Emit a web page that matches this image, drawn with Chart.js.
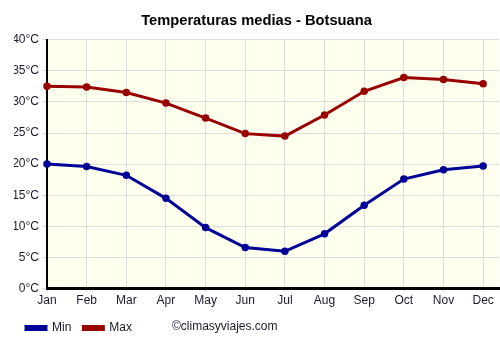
<!DOCTYPE html>
<html><head><meta charset="utf-8">
<script src="https://cdn.jsdelivr.net/npm/chart.js@4/dist/chart.umd.min.js"></script>
<style>html,body{margin:0;padding:0;background:#fff}#wrap{width:500px;height:350px}</style>
</head><body><div id="wrap"><canvas id="c" width="500" height="350"></canvas></div>
<script>
const months = ['Jan','Feb','Mar','Apr','May','Jun','Jul','Aug','Sep','Oct','Nov','Dec'];
const minTemps = [20.0, 19.6, 18.2, 14.5, 9.8, 6.6, 6.0, 8.8, 13.4, 17.6, 19.1, 19.7];
const maxTemps = [32.5, 32.4, 31.5, 29.8, 27.4, 24.9, 24.5, 27.9, 31.7, 33.9, 33.6, 32.9];
const yTicks = [0, 5, 10, 15, 20, 25, 30, 35, 40];
const titleText = 'Temperaturas medias - Botsuana';
const creditText = '©climasyviajes.com';

const FONT = "'Liberation Sans', Arial, sans-serif";
const TXT = '#1a1a2e';

const bgPlugin = {
  id: 'bg',
  beforeDraw(chart) {
    const {ctx, chartArea: a} = chart;
    ctx.save();
    ctx.fillStyle = '#ffffee';
    ctx.fillRect(a.left, a.top, a.right - a.left, a.bottom - a.top);
    ctx.restore();
  },
  afterDraw(chart) {
    const ctx = chart.ctx;
    ctx.save();
    ctx.font = '12px ' + FONT;
    ctx.fillStyle = TXT;
    ctx.textBaseline = 'middle';
    ctx.fillText(creditText, 172, 327);
    ctx.restore();
  }
};

const toPts = arr => arr.map((v, i) => ({x: i, y: v}));

new Chart(document.getElementById('c'), {
  type: 'line',
  data: {
    datasets: [
      {label: 'Min', data: toPts(minTemps), borderColor: '#000099', backgroundColor: '#000099',
       borderWidth: 3, pointRadius: 3, pointBorderWidth: 1.5, pointHoverRadius: 3, clip: 6},
      {label: 'Max', data: toPts(maxTemps), borderColor: '#990000', backgroundColor: '#990000',
       borderWidth: 3, pointRadius: 3, pointBorderWidth: 1.5, pointHoverRadius: 3, clip: 6}
    ]
  },
  options: {
    responsive: false,
    animation: false,
    layout: {autoPadding: false, padding: {left: 14, right: 1, top: 0, bottom: 6}},
    plugins: {
      title: {display: true, text: titleText, color: '#000',
        font: {family: FONT, size: 14.7, weight: 'bold'}, padding: {top: 12, bottom: 10}},
      legend: {display: true, position: 'bottom', align: 'start',
        labels: {color: TXT, font: {family: FONT, size: 12}, boxWidth: 20, boxHeight: 3, padding: 12}},
      tooltip: {enabled: false}
    },
    scales: {
      x: {type: 'linear', min: 0, max: 11.4,
        ticks: {stepSize: 1, includeBounds: false, autoSkip: false, maxRotation: 0, color: TXT,
          font: {family: FONT, size: 12}, padding: 2,
          callback: v => months[v] ?? ''},
        afterBuildTicks: s => { s.ticks = months.map((m, i) => ({value: i})); },
        afterFit: s => { s.paddingRight = 0; s.paddingLeft = 0; },
        grid: {color: '#dddddd', tickLength: 3, drawTicks: true},
        border: {color: '#000', width: 3}
      },
      y: {min: 0, max: 40,
        afterBuildTicks: s => { s.ticks = yTicks.map(v => ({value: v})); },
        afterFit: s => { s.width = 33; },
        ticks: {color: TXT, font: {family: FONT, size: 12}, padding: 3,
          callback: v => v + '°C'},
        grid: {color: '#dddddd', tickLength: 5},
        border: {color: '#000', width: 2}
      }
    }
  },
  plugins: [bgPlugin]
});
</script></body></html>
